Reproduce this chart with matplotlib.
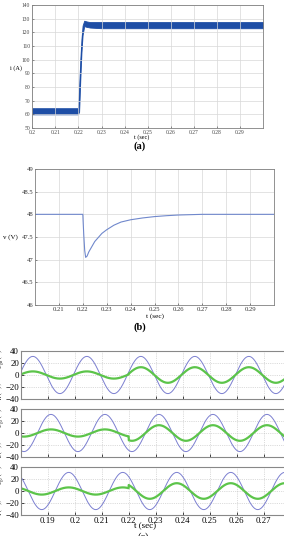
import numpy as np
import matplotlib
matplotlib.use("Agg")
import matplotlib.pyplot as plt

plt.rcParams['font.family'] = ['Liberation Serif', 'DejaVu Serif']
plt.rcParams['mathtext.fontset'] = 'stix'

# ---------------- data ----------------
# (a) current envelope (thick ripple band)
ta = [0.2, 0.2198, 0.2203, 0.2208, 0.2213, 0.2218, 0.2225, 0.2235, 0.225, 0.23, 0.3]
ia_upper = [64.5, 64.5, 80, 100, 115, 125, 128.5, 128.0, 127.5, 127.5, 127.5]
ia_lower = [60.0, 60.0, 62, 85, 105, 118, 124.5, 124.0, 123.5, 123.0, 123.0]
a_xticks = [0.2, 0.21, 0.22, 0.23, 0.24, 0.25, 0.26, 0.27, 0.28, 0.29]
a_yticks = [50, 60, 70, 80, 90, 100, 110, 120, 130, 140]

# (b) dc voltage
tb = [0.2, 0.22, 0.2204, 0.2208, 0.2212, 0.2218, 0.2225, 0.225, 0.228, 0.23, 0.233,
      0.236, 0.24, 0.245, 0.25, 0.255, 0.26, 0.27, 0.3]
vb = [48.0, 48.0, 47.55, 47.2, 47.05, 47.08, 47.17, 47.4, 47.58, 47.66, 47.76,
      47.83, 47.88, 47.92, 47.95, 47.97, 47.985, 48.0, 48.0]
b_xticks = [0.21, 0.22, 0.23, 0.24, 0.25, 0.26, 0.27, 0.28, 0.29]
b_yticks = [46, 46.5, 47, 47.5, 48, 48.5, 49]
b_yticklabels = ['46', '46.5', '47', '47.5', '48', '48.5', '49']

# (c) phase waveforms: 50 Hz, first peak time, amplitudes
freq = 50.0
phases = ['R', 'S', 'T']
blue_first_peak = [0.1845, 0.1912, 0.1778]
blue_amp = [31, 31, 31]
green_amp_before = [6, 6, 6]
green_amp_after = [13, 13, 13]
t_step = 0.22
c_xticks = [0.19, 0.2, 0.21, 0.22, 0.23, 0.24, 0.25, 0.26, 0.27]
c_xticklabels = ['0.19', '0.2', '0.21', '0.22', '0.23', '0.24', '0.25', '0.26', '0.27']
c_yticks = [-40, -20, 0, 20, 40]
c_ylabels = [r'$i_R(A), 0.1u_{C_{gR}}(V)$', r'$i_S(A), 0.1u_{C_{gS}}(V)$',
             r'$i_T(A), 0.1u_{C_{gT}}(V)$']

# ---------------- figure ----------------
W, H = 284, 536
fig = plt.figure(figsize=(W / 100, H / 100), dpi=100)

def rect(l, t, r, b):
    return [l / W, 1 - b / H, (r - l) / W, (b - t) / H]

grid_col = '#d8d8d8'
spine_col = '#808080'

# (a)
axa = fig.add_axes(rect(32.3, 5, 263, 128))
axa.fill_between(ta, ia_lower, ia_upper, color='#1e4ea6', lw=0.6, edgecolor='#1e4ea6')
axa.set_xlim(0.2, 0.3)
axa.set_ylim(50, 140)
axa.set_xticks(a_xticks)
axa.set_xticklabels(['0.2', '0.21', '0.22', '0.23', '0.24', '0.25', '0.26', '0.27', '0.28', '0.29'])
axa.set_yticks(a_yticks)
axa.tick_params(labelsize=4, length=1.5, width=0.4, direction='in', pad=1.5, colors='#444444')
axa.grid(True, color=grid_col, lw=0.5)
for s in axa.spines.values():
    s.set_color(spine_col); s.set_linewidth(0.6)
fig.text(16 / W, 1 - 68 / H, 'i (A)', fontsize=4.5, ha='center', va='center')
fig.text(142 / W, 1 - 137 / H, 't (sec)', fontsize=4.5, ha='center', va='center')
fig.text(140 / W, 1 - 146 / H, '(a)', fontsize=7.5, fontweight='bold', ha='center', va='center')

# (b)
axb = fig.add_axes(rect(35, 169, 274, 305))
axb.plot(tb, vb, color='#7088cc', lw=0.8)
axb.set_xlim(0.2, 0.3)
axb.set_ylim(46, 49)
axb.set_xticks(b_xticks)
axb.set_yticks(b_yticks)
axb.set_yticklabels(b_yticklabels)
axb.tick_params(labelsize=4.8, length=1.5, width=0.4, direction='in', pad=1.2, colors='#333333')
axb.grid(True, color=grid_col, lw=0.5)
for s in axb.spines.values():
    s.set_color(spine_col); s.set_linewidth(0.6)
fig.text(10 / W, 1 - 237 / H, 'v (V)', fontsize=5, ha='center', va='center')
fig.text(155 / W, 1 - 316 / H, 't (sec)', fontsize=5.2, ha='center', va='center')
fig.text(140 / W, 1 - 327 / H, '(b)', fontsize=7.5, fontweight='bold', ha='center', va='center')

# (c)
t = np.linspace(0.18, 0.28, 3000)
tops = [351, 409, 467]
bots = [399, 457, 515]
for k in range(3):
    ax = fig.add_axes(rect(20.7, tops[k], 290.7, bots[k]))
    ph = 2 * np.pi * freq * (t - blue_first_peak[k])
    blue = blue_amp[k] * np.cos(ph)
    g_amp = np.where(t < t_step, green_amp_before[k], green_amp_after[k])
    green = g_amp * np.cos(ph)
    ax.plot(t, blue, color='#7b7fd0', lw=0.7)
    ax.plot(t, green, color='#5cc44a', lw=1.6)
    ax.set_xlim(0.18, 0.28)
    ax.set_ylim(-40, 40)
    ax.set_yticks(c_yticks)
    ax.set_xticks(c_xticks)
    if k == 2:
        ax.set_xticklabels(c_xticklabels)
    else:
        ax.set_xticklabels([])
    ax.tick_params(labelsize=6.3, length=2, width=0.5, direction='in', pad=1.2)
    ax.grid(True, color='#bbbbbb', lw=0.5, ls=':')
    for s in ax.spines.values():
        s.set_color('#888888'); s.set_linewidth(0.8)
    fig.text(0.2 / W, 1 - (tops[k] + bots[k]) / 2 / H, c_ylabels[k], rotation=90,
             fontsize=5.8, ha='center', va='center')
fig.text(145 / W, 1 - 526 / H, 't (sec)', fontsize=6.5, ha='center', va='center')
fig.text(143 / W, 1 - 537 / H, '(c)', fontsize=7.5, ha='center', va='center')

fig.savefig('out.png', dpi=100)
